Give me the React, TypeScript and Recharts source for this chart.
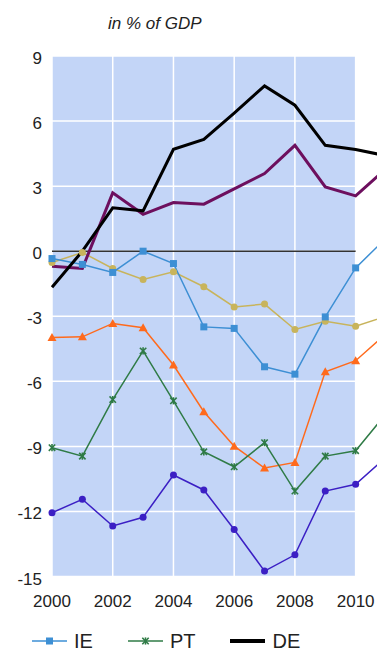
import React from 'react';
import { LineChart, Line, XAxis, YAxis, CartesianGrid, ReferenceLine, Legend } from 'recharts';

// Current account balance, % of GDP
const years = [2000, 2001, 2002, 2003, 2004, 2005, 2006, 2007, 2008, 2009, 2010, 2011];
const ieValues = [-0.34, -0.61, -0.98, 0.0, -0.57, -3.49, -3.56, -5.33, -5.67, -3.03, -0.77, 0.6];
const ptValues = [-9.06, -9.45, -6.84, -4.6, -6.9, -9.25, -9.94, -8.83, -11.06, -9.45, -9.2, -7.5];
const deValues = [-1.66, 0.0, 2.0, 1.86, 4.7, 5.15, 6.37, 7.62, 6.73, 4.88, 4.69, 4.4];
const grValues = [-12.06, -11.44, -12.67, -12.27, -10.32, -11.01, -12.83, -14.75, -14.0, -11.06, -10.75, -9.5];
const esValues = [-3.98, -3.95, -3.33, -3.53, -5.25, -7.4, -8.99, -10.0, -9.74, -5.56, -5.05, -3.8];
const itValues = [-0.52, -0.06, -0.8, -1.3, -0.95, -1.64, -2.57, -2.44, -3.61, -3.23, -3.46, -3.0];
const atValues = [-0.69, -0.8, 2.69, 1.7, 2.24, 2.17, 2.87, 3.58, 4.88, 2.96, 2.55, 3.8];

const xTicks = [2000, 2002, 2004, 2006, 2008, 2010];
const yTicks = [-15, -12, -9, -6, -3, 0, 3, 6, 9];

const FONT = '"Liberation Sans", Arial, sans-serif';
const PLOT_BG = '#c3d5f7';

const data = years.map((year, i) => ({
  year,
  IE: ieValues[i],
  PT: ptValues[i],
  DE: deValues[i],
  GR: grValues[i],
  ES: esValues[i],
  IT: itValues[i],
  AT: atValues[i],
}));

type Marker = 'square' | 'star' | 'circle' | 'triangle' | 'none';

const COLORS: Record<string, string> = {
  IE: '#3d8fd4',
  PT: '#2f7b46',
  DE: '#000000',
  GR: '#3b1fc4',
  ES: '#ff6a1c',
  IT: '#c8b45c',
  AT: '#6d0f5e',
};

const MARKERS: Record<string, Marker> = {
  IE: 'square',
  PT: 'star',
  DE: 'none',
  GR: 'circle',
  ES: 'triangle',
  IT: 'circle',
  AT: 'none',
};

function drawMarker(kind: Marker, cx: number, cy: number, color: string, key?: React.Key) {
  switch (kind) {
    case 'square':
      return <rect key={key} x={cx - 3.5} y={cy - 3.5} width={7} height={7} fill={color} />;
    case 'circle':
      return <circle key={key} cx={cx} cy={cy} r={3.5} fill={color} />;
    case 'triangle':
      return (
        <path
          key={key}
          d={`M${cx},${cy - 4.5}L${cx + 4.5},${cy + 3.5}L${cx - 4.5},${cy + 3.5}Z`}
          fill={color}
        />
      );
    case 'star':
      return (
        <g key={key} stroke={color} strokeWidth={1.6}>
          <line x1={cx - 3.2} y1={cy - 3.2} x2={cx + 3.2} y2={cy + 3.2} />
          <line x1={cx - 3.2} y1={cy + 3.2} x2={cx + 3.2} y2={cy - 3.2} />
          <line x1={cx} y1={cy - 3.6} x2={cx} y2={cy + 3.6} />
        </g>
      );
    default:
      return <g key={key} />;
  }
}

const dotFor = (name: string) => {
  const kind = MARKERS[name];
  if (kind === 'none') return false;
  return (props: any) => drawMarker(kind, props.cx, props.cy, COLORS[name], `${name}-${props.index}`);
};

const renderLegend = (props: any) => {
  const items = (props.payload || []) as any[];
  return (
    <div style={{ height: 32, position: 'relative' }}>
      <div
        style={{
          position: 'absolute',
          left: 24,
          top: 18,
          height: 14,
          display: 'flex',
          alignItems: 'flex-start',
          fontFamily: FONT,
          fontSize: 20,
          color: '#222',
          whiteSpace: 'nowrap',
        }}
      >
        {items.map((entry) => {
          const name = String(entry.value);
          const color = COLORS[name];
          const thick = name === 'DE';
          return (
            <div key={name} style={{ display: 'flex', alignItems: 'flex-start', marginRight: 35 }}>
              <svg width={35} height={14} style={{ display: 'block' }}>
                <line x1={0} y1={7} x2={35} y2={7} stroke={color} strokeWidth={thick ? 4 : 1.5} />
                {drawMarker(MARKERS[name], 17.5, 7, color)}
              </svg>
              <span style={{ marginLeft: 7, display: 'inline-block', lineHeight: '14px', height: 14 }}>
                {name}
              </span>
            </div>
          );
        })}
      </div>
    </div>
  );
};

const seriesOrder = ['GR', 'ES', 'PT', 'IT', 'IE', 'AT', 'DE'];
const legendNames = ['IE', 'PT', 'DE'];

export default function App() {
  return (
    <div style={{ position: 'relative', width: 377, height: 640, overflow: 'hidden' }}>
      <div
        style={{
          position: 'absolute',
          left: 100,
          top: 7,
          fontFamily: FONT,
          fontStyle: 'italic',
          fontSize: 17,
          lineHeight: '17px',
          color: '#222',
          whiteSpace: 'nowrap',
        }}
      >
        in % of GDP
      </div>
      <LineChart width={380} height={640} data={data} margin={{ top: 48, right: 2, bottom: 0, left: 0 }}>
        {/* blue plot background, only up to 2010 */}
        <CartesianGrid
          horizontal={false}
          vertical={true}
          stroke="none"
          verticalFill={[PLOT_BG, PLOT_BG, PLOT_BG, PLOT_BG, PLOT_BG, 'none']}
          fillOpacity={1}
        />
        <CartesianGrid stroke="#ffffff" strokeWidth={1.5} />
        <XAxis
          dataKey="year"
          type="number"
          domain={[2000, 2011]}
          ticks={xTicks}
          axisLine={false}
          tickLine={false}
          tickSize={0}
          tickMargin={18}
          height={39.5}
          tick={{ fill: '#222', fontSize: 17, fontFamily: FONT }}
        />
        <YAxis
          type="number"
          domain={[-15, 9]}
          ticks={yTicks}
          axisLine={false}
          tickLine={false}
          tickSize={0}
          tickMargin={10}
          width={44}
          tick={{ fill: '#222', fontSize: 17, fontFamily: FONT, dy: 2 }}
        />
        <ReferenceLine
          segment={[
            { x: 2000, y: 0 },
            { x: 2010, y: 0 },
          ]}
          stroke="#333333"
          strokeWidth={1.5}
        />
        {seriesOrder.map((name) => (
          <Line
            key={name}
            type="linear"
            dataKey={name}
            name={name}
            stroke={COLORS[name]}
            strokeWidth={name === 'DE' || name === 'AT' ? 3 : 1.5}
            dot={dotFor(name) as any}
            activeDot={false}
            legendType={legendNames.includes(name) ? 'line' : 'none'}
            isAnimationActive={false}
          />
        ))}
        <Legend
          verticalAlign="bottom"
          align="left"
          content={(p: any) => {
            const sorted = legendNames
              .map((n) => (p.payload || []).find((e: any) => e.value === n))
              .filter(Boolean);
            return renderLegend({ payload: sorted });
          }}
        />
      </LineChart>
    </div>
  );
}
